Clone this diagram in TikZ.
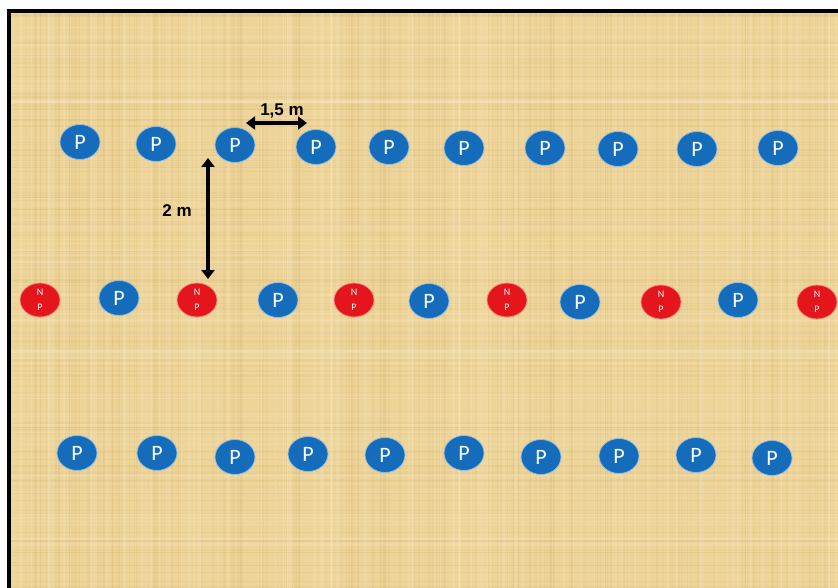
\documentclass[tikz,border=0pt]{standalone}
\usepackage{fontspec}
\setmainfont{Liberation Sans}
\newfontfamily\calib{Carlito}
\usetikzlibrary{shapes.geometric,arrows.meta}
\definecolor{papyrus}{RGB}{237,212,152}
\definecolor{fiberdark}{RGB}{190,150,80}
\definecolor{fiberlight}{RGB}{250,236,200}
\definecolor{pblue}{RGB}{20,108,186}
\definecolor{pedge}{RGB}{150,190,222}
\definecolor{pred}{RGB}{228,22,28}
\definecolor{redge}{RGB}{240,140,130}
\tikzset{
  pnode/.style={ellipse, fill=pblue, draw=pedge, line width=0.8pt,
    minimum width=40pt, minimum height=35pt, inner sep=0pt, text=white,
    font=\calib\fontsize{22}{22}\selectfont},
  npnode/.style={ellipse, fill=pred, draw=redge, line width=0.8pt,
    minimum width=40pt, minimum height=34pt, inner sep=0pt, text=white,
    align=center, font=\calib\fontsize{10}{15}\selectfont},
  dimarrow/.style={line width=3.5pt, {Triangle[length=9pt,width=13pt]}-{Triangle[length=9pt,width=13pt]}},
  dimlabel/.style={font=\bfseries\fontsize{17}{17}\selectfont, inner sep=1pt}
}
\begin{document}
\begin{tikzpicture}[x=1pt,y=-1pt]
\useasboundingbox (0,0) rectangle (838,588);
\fill[white] (0,0) rectangle (838,588);
\fill[papyrus] (9,11) rectangle (838,588);
\begin{scope}
  \clip (9,11) rectangle (838,588);
  \pgfmathsetseed{7}
  \foreach \i in {1,...,220}{
    \pgfmathsetmacro\xx{9+rnd*829}
    \pgfmathsetmacro\ww{0.3+rnd*1.5}
    \draw[fiberdark, opacity=0.07, line width=\ww pt] (\xx,11) -- (\xx,588);
  }
  \foreach \i in {1,...,180}{
    \pgfmathsetmacro\yy{11+rnd*577}
    \pgfmathsetmacro\ww{0.3+rnd*1.5}
    \draw[fiberdark, opacity=0.07, line width=\ww pt] (9,\yy) -- (838,\yy);
  }
  \foreach \i in {1,...,120}{
    \pgfmathsetmacro\xx{9+rnd*829}
    \pgfmathsetmacro\ww{0.5+rnd*2.5}
    \draw[fiberlight, opacity=0.2, line width=\ww pt] (\xx,11) -- (\xx,588);
  }
  \foreach \i in {1,...,80}{
    \pgfmathsetmacro\yy{11+rnd*577}
    \pgfmathsetmacro\ww{0.5+rnd*2.5}
    \draw[fiberlight, opacity=0.2, line width=\ww pt] (9,\yy) -- (838,\yy);
  }
\end{scope}
\draw[line width=4pt] (9,600) -- (9,11) -- (850,11);

% row 1
\foreach \x/\y [count=\k] in {80/142,156/144,235/145,316/147,389/147,464/148,545/148,618/149,697/149,778/148}{
  \node[pnode] (a\k) at (\x,\y) {P};
}
% row 2
\foreach \x/\y [count=\k] in {40/300,197/300,354/300,507/300,661/302,817/302}{
  \node[npnode] (n\k) at (\x,\y) {N\\P};
}
\foreach \x/\y [count=\k] in {119/298,278/300,429/301,580/302,738/300}{
  \node[pnode] (b\k) at (\x,\y) {P};
}
% row 3
\foreach \x/\y [count=\k] in {77/453,157/453,235/457,308/454,385/455,464/453,541/457,619/456,696/455,772/458}{
  \node[pnode] (c\k) at (\x,\y) {P};
}

% dimensions
\coordinate (h1) at (246,123);
\coordinate (h2) at (307,123);
\coordinate (v1) at (208,158);
\coordinate (v2) at (208,279);
\draw[dimarrow] (h1) -- (h2);
\draw[dimarrow] (v1) -- (v2);
\node[dimlabel] (lh) at (282,111) {1,5 m};
\node[dimlabel] (lv) at (177,211) {2 m};
\end{tikzpicture}
\end{document}
